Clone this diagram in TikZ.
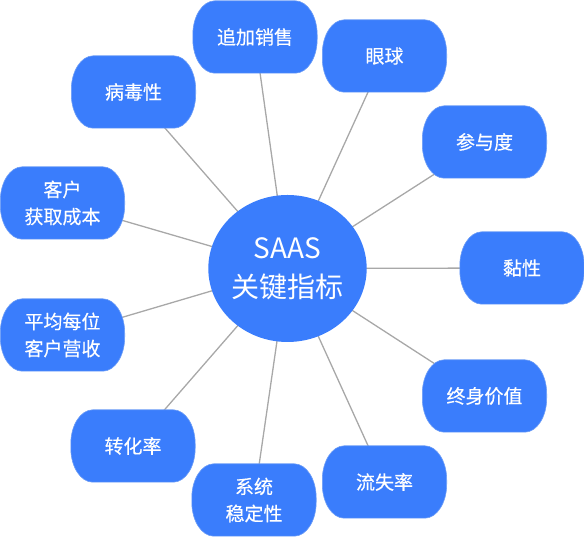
\documentclass[tikz,border=0pt]{standalone}
\usepackage{fontspec}
\setmainfont{Noto Sans CJK SC}
\newfontfamily\boxfont{Noto Sans CJK SC}[FakeBold=0.3]
\usetikzlibrary{shapes.geometric}
\pgfdeclarelayer{edges}
\pgfdeclarelayer{fills}
\pgfsetlayers{edges,fills,main}
\definecolor{boxblue}{HTML}{3A7DFC}
\definecolor{boxrim}{HTML}{6E9EF6}
\definecolor{edgegray}{HTML}{A8A8A8}
\newcommand\bubfill[1]{%
  \fill[boxblue, draw=boxrim, line width=0.6pt]
    ([xshift=22pt]#1.north west) -- ([xshift=-22pt]#1.north east)
    arc[start angle=90, end angle=0, x radius=22pt, y radius=34pt]
    -- ([yshift=34pt]#1.south east)
    arc[start angle=0, end angle=-90, x radius=22pt, y radius=34pt]
    -- ([xshift=22pt]#1.south west)
    arc[start angle=-90, end angle=-180, x radius=22pt, y radius=34pt]
    -- ([yshift=-34pt]#1.north west)
    arc[start angle=180, end angle=90, x radius=22pt, y radius=34pt]
    -- cycle;}
\tikzset{
  x=1pt, y=1pt,
  bub/.style={rectangle, minimum width=124pt, minimum height=72pt, inner sep=0pt,
    text=white, align=center, font=\boxfont\fontsize{19}{27}\selectfont},
  hub/.style={ellipse, fill=boxblue, minimum width=158pt, minimum height=147pt, inner sep=0pt,
    text=white, align=center, font=\fontsize{28}{39}\selectfont},
  edge/.style={draw=edgegray, line width=1.3pt}
}
\begin{document}
\begin{tikzpicture}
\useasboundingbox (0,0) rectangle (584,537);
\node[hub] (c) at (287.5,268.5) {SAAS\\关键指标};
\node[bub] (n1) at (255,500) {追加销售};
\node[bub] (n2) at (384.5,481) {眼球};
\node[bub] (n3) at (484.5,395) {参与度};
\node[bub] (n4) at (522,269) {黏性};
\node[bub] (n5) at (484.5,141) {终身价值};
\node[bub] (n6) at (384.5,55) {流失率};
\node[bub] (n7) at (254,37) {系统\\稳定性};
\node[bub] (n8) at (133,91) {转化率};
\node[bub] (n9) at (62.5,202) {平均每位\\客户营收};
\node[bub] (n10) at (62.5,334) {客户\\获取成本};
\node[bub] (n11) at (133.5,445) {病毒性};
\begin{pgfonlayer}{fills}
\foreach \n in {n1,n2,n3,n4,n5,n6,n7,n8,n9,n10,n11} {\bubfill{\n}}
\end{pgfonlayer}
\begin{pgfonlayer}{edges}
\foreach \n in {n1,n2,n3,n4,n5,n6,n7,n8,n9,n10,n11} {\draw[edge] (c.center) -- (\n.center);}
\end{pgfonlayer}
\end{tikzpicture}
\end{document}
